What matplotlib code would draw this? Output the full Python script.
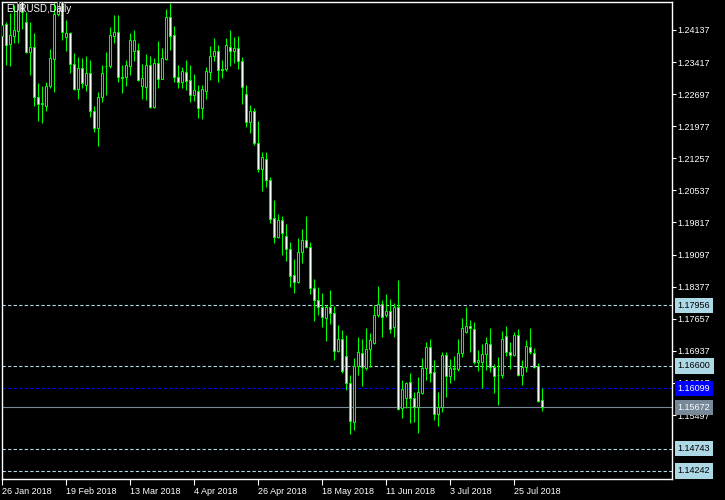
import matplotlib.pyplot as plt
from matplotlib.transforms import blended_transform_factory

plt.rcParams['font.family'] = ['Liberation Sans', 'DejaVu Sans']

# EURUSD daily candles, 26 Jan 2018 .. 3 Aug 2018
opens = [1.2400, 1.2427, 1.2382, 1.2401, 1.2412, 1.2505, 1.2432, 1.2365, 1.2376, 1.2263,
         1.2248, 1.2244, 1.2288, 1.2349, 1.2450, 1.2505, 1.2399, 1.2406, 1.2337, 1.2281,
         1.2328, 1.2290, 1.2317, 1.2232, 1.2193, 1.2264, 1.2333, 1.2334, 1.2401, 1.2410,
         1.2306, 1.2309, 1.2334, 1.2367, 1.2369, 1.2289, 1.2286, 1.2335, 1.2240, 1.2339,
         1.2304, 1.2348, 1.2442, 1.2402, 1.2308, 1.2298, 1.2319, 1.2301, 1.2268, 1.2277,
         1.2238, 1.2277, 1.2319, 1.2355, 1.2367, 1.2326, 1.2326, 1.2376, 1.2367, 1.2373,
         1.2344, 1.2269, 1.2208, 1.2232, 1.2159, 1.2102, 1.2124, 1.2077, 1.1991, 1.1950,
         1.1987, 1.1951, 1.1922, 1.1864, 1.1849, 1.1915, 1.1942, 1.1926, 1.1835, 1.1808,
         1.1793, 1.1768, 1.1791, 1.1778, 1.1694, 1.1720, 1.1681, 1.1622, 1.1535, 1.1660,
         1.1688, 1.1655, 1.1697, 1.1711, 1.1773, 1.1799, 1.1773, 1.1783, 1.1747, 1.1791,
         1.1565, 1.1587, 1.1623, 1.1587, 1.1568, 1.1598, 1.1655, 1.1702, 1.1646, 1.1551,
         1.1567, 1.1684, 1.1637, 1.1654, 1.1653, 1.1688, 1.1737, 1.1749, 1.1742, 1.1669,
         1.1669, 1.1687, 1.1709, 1.1658, 1.1639, 1.1640, 1.1727, 1.1690, 1.1684, 1.1729,
         1.1640, 1.1658, 1.1702, 1.1688, 1.1660, 1.1583]
highs = [1.2490, 1.2432, 1.2452, 1.2470, 1.2516, 1.2520, 1.2454, 1.2432, 1.2407, 1.2295,
         1.2288, 1.2298, 1.2371, 1.2478, 1.2515, 1.2555, 1.2436, 1.2410, 1.2361, 1.2354,
         1.2350, 1.2355, 1.2346, 1.2242, 1.2275, 1.2335, 1.2365, 1.2421, 1.2447, 1.2447,
         1.2335, 1.2346, 1.2408, 1.2414, 1.2385, 1.2337, 1.2360, 1.2355, 1.2350, 1.2390,
         1.2373, 1.2461, 1.2475, 1.2423, 1.2335, 1.2331, 1.2346, 1.2335, 1.2315, 1.2290,
         1.2290, 1.2331, 1.2378, 1.2396, 1.2380, 1.2346, 1.2396, 1.2414, 1.2399, 1.2400,
         1.2354, 1.2290, 1.2245, 1.2239, 1.2209, 1.2141, 1.2139, 1.2083, 1.2032, 1.2000,
         1.1997, 1.1978, 1.1939, 1.1899, 1.1948, 1.1967, 1.1997, 1.1939, 1.1854, 1.1836,
         1.1824, 1.1797, 1.1830, 1.1794, 1.1752, 1.1740, 1.1729, 1.1640, 1.1677, 1.1724,
         1.1720, 1.1746, 1.1733, 1.1797, 1.1839, 1.1808, 1.1821, 1.1809, 1.1800, 1.1853,
         1.1628, 1.1624, 1.1643, 1.1602, 1.1636, 1.1677, 1.1714, 1.1720, 1.1673, 1.1602,
         1.1692, 1.1690, 1.1675, 1.1682, 1.1720, 1.1767, 1.1793, 1.1763, 1.1759, 1.1696,
         1.1709, 1.1724, 1.1744, 1.1664, 1.1679, 1.1738, 1.1749, 1.1714, 1.1737, 1.1742,
         1.1673, 1.1718, 1.1744, 1.1699, 1.1666, 1.1610]
lows = [1.2375, 1.2335, 1.2333, 1.2385, 1.2385, 1.2415, 1.2362, 1.2313, 1.2243, 1.2210,
        1.2205, 1.2232, 1.2283, 1.2275, 1.2445, 1.2391, 1.2367, 1.2318, 1.2279, 1.2258,
        1.2283, 1.2277, 1.2219, 1.2185, 1.2154, 1.2253, 1.2268, 1.2328, 1.2384, 1.2298,
        1.2272, 1.2288, 1.2313, 1.2345, 1.2299, 1.2259, 1.2257, 1.2238, 1.2238, 1.2283,
        1.2303, 1.2346, 1.2369, 1.2298, 1.2283, 1.2283, 1.2279, 1.2253, 1.2255, 1.2217,
        1.2214, 1.2259, 1.2301, 1.2345, 1.2298, 1.2307, 1.2322, 1.2334, 1.2340, 1.2326,
        1.2248, 1.2197, 1.2182, 1.2156, 1.2096, 1.2053, 1.2062, 1.1981, 1.1936, 1.1946,
        1.1909, 1.1896, 1.1838, 1.1823, 1.1847, 1.1890, 1.1924, 1.1821, 1.1761, 1.1774,
        1.1748, 1.1716, 1.1754, 1.1673, 1.1690, 1.1645, 1.1606, 1.1507, 1.1516, 1.1640,
        1.1615, 1.1651, 1.1658, 1.1709, 1.1770, 1.1725, 1.1770, 1.1733, 1.1724, 1.1562,
        1.1542, 1.1565, 1.1531, 1.1535, 1.1509, 1.1597, 1.1628, 1.1624, 1.1538, 1.1526,
        1.1557, 1.1591, 1.1621, 1.1628, 1.1649, 1.1679, 1.1733, 1.1690, 1.1664, 1.1649,
        1.1610, 1.1651, 1.1647, 1.1600, 1.1572, 1.1632, 1.1682, 1.1653, 1.1682, 1.1637,
        1.1617, 1.1647, 1.1687, 1.1655, 1.1580, 1.1559]
closes = [1.2425, 1.2380, 1.2402, 1.2414, 1.2508, 1.2455, 1.2365, 1.2376, 1.2263, 1.2247,
          1.2249, 1.2289, 1.2350, 1.2450, 1.2505, 1.2410, 1.2406, 1.2337, 1.2281, 1.2328,
          1.2294, 1.2317, 1.2232, 1.2193, 1.2264, 1.2318, 1.2332, 1.2402, 1.2410, 1.2309,
          1.2309, 1.2335, 1.2391, 1.2391, 1.2301, 1.2305, 1.2335, 1.2240, 1.2339, 1.2304,
          1.2350, 1.2442, 1.2401, 1.2308, 1.2298, 1.2322, 1.2300, 1.2268, 1.2279, 1.2239,
          1.2281, 1.2322, 1.2355, 1.2367, 1.2325, 1.2325, 1.2380, 1.2367, 1.2373, 1.2345,
          1.2286, 1.2208, 1.2232, 1.2159, 1.2102, 1.2129, 1.2076, 1.1990, 1.1950, 1.1987,
          1.1959, 1.1922, 1.1862, 1.1849, 1.1915, 1.1942, 1.1926, 1.1835, 1.1808, 1.1793,
          1.1770, 1.1791, 1.1778, 1.1694, 1.1720, 1.1649, 1.1622, 1.1537, 1.1660, 1.1690,
          1.1658, 1.1697, 1.1718, 1.1774, 1.1799, 1.1769, 1.1783, 1.1743, 1.1791, 1.1563,
          1.1607, 1.1621, 1.1587, 1.1568, 1.1602, 1.1655, 1.1702, 1.1645, 1.1551, 1.1567,
          1.1684, 1.1637, 1.1655, 1.1655, 1.1688, 1.1744, 1.1749, 1.1744, 1.1669, 1.1673,
          1.1687, 1.1711, 1.1658, 1.1638, 1.1640, 1.1720, 1.1690, 1.1684, 1.1729, 1.1640,
          1.1658, 1.1705, 1.1690, 1.1658, 1.1582, 1.15672]

date_labels = ["26 Jan 2018", "19 Feb 2018", "13 Mar 2018", "4 Apr 2018", "26 Apr 2018",
               "18 May 2018", "11 Jun 2018", "3 Jul 2018", "25 Jul 2018"]
date_bars = [0, 16, 32, 48, 64, 80, 96, 112, 128]

price_ticks = [1.24137, 1.23417, 1.22697, 1.21977, 1.21257, 1.20537, 1.19817,
               1.19097, 1.18377, 1.17657, 1.16937, 1.16217, 1.15497]

light_levels = [1.17956, 1.16600, 1.14743, 1.14242]
blue_level = 1.16099
bid_level = 1.15672

GREEN = "#00ff00"
LIGHT = "#add8e6"
BLUE = "#0000ff"
SLATE = "#778899"

fig = plt.figure(figsize=(7.25, 5.0), dpi=100, facecolor="black")
ax = fig.add_axes([2 / 725, 21 / 500, 670 / 725, 477 / 500], facecolor="black")

n = len(closes)
xs = list(range(n))
ax.vlines(xs, lows, highs, color=GREEN, linewidth=0.8, zorder=2)
bottoms = [min(o, c) for o, c in zip(opens, closes)]
heights = [abs(c - o) for o, c in zip(opens, closes)]
fills = ["white" if c < o else "black" for o, c in zip(opens, closes)]
ax.bar(xs, heights, bottom=bottoms, width=0.5, color=fills, edgecolor=GREEN,
       linewidth=0.75, zorder=3)

for lv in light_levels:
    ax.axhline(lv, color=LIGHT, linewidth=0.8, linestyle=(0, (3, 2)), zorder=1)
ax.axhline(blue_level, color=BLUE, linewidth=0.8, linestyle=(0, (3, 2)), zorder=1)
ax.axhline(bid_level, color=SLATE, linewidth=0.8, zorder=1)

ax.set_xlim(-0.075, 167.425)
ax.set_ylim(1.14061, 1.24765)

for s in ax.spines.values():
    s.set_color("white")
    s.set_linewidth(1)

ax.yaxis.tick_right()
ax.set_yticks(price_ticks)
ax.set_yticklabels([f"{p:.5f}" for p in price_ticks])
ax.tick_params(axis="y", colors="white", direction="out", length=3, width=0.8,
               labelsize=6.5, pad=1)

ax.set_xticks(date_bars)
ax.set_xticklabels(date_labels)
ax.tick_params(axis="x", colors="white", direction="out", length=4, width=0.8,
               labelsize=6.5, pad=2)
for lab in ax.get_xticklabels():
    lab.set_horizontalalignment("left")

trans = blended_transform_factory(ax.transAxes, ax.transData)
boxes = [(p, LIGHT, "black") for p in light_levels]
boxes += [(blue_level, BLUE, "white"), (bid_level, SLATE, "white")]
for p, bg, fg in boxes:
    ax.text(1.0085, p, f"{p:.5f}", transform=trans, color=fg, fontsize=6.5,
            va="center", ha="left", clip_on=False, zorder=10,
            bbox=dict(boxstyle="square,pad=0.35", facecolor=bg, edgecolor="none"))

fig.text(6 / 725, 1 - 9 / 500, "EURUSD,Daily", color="white", fontsize=7,
         va="center", ha="left")

fig.savefig("out.png", dpi=100, facecolor="black")
